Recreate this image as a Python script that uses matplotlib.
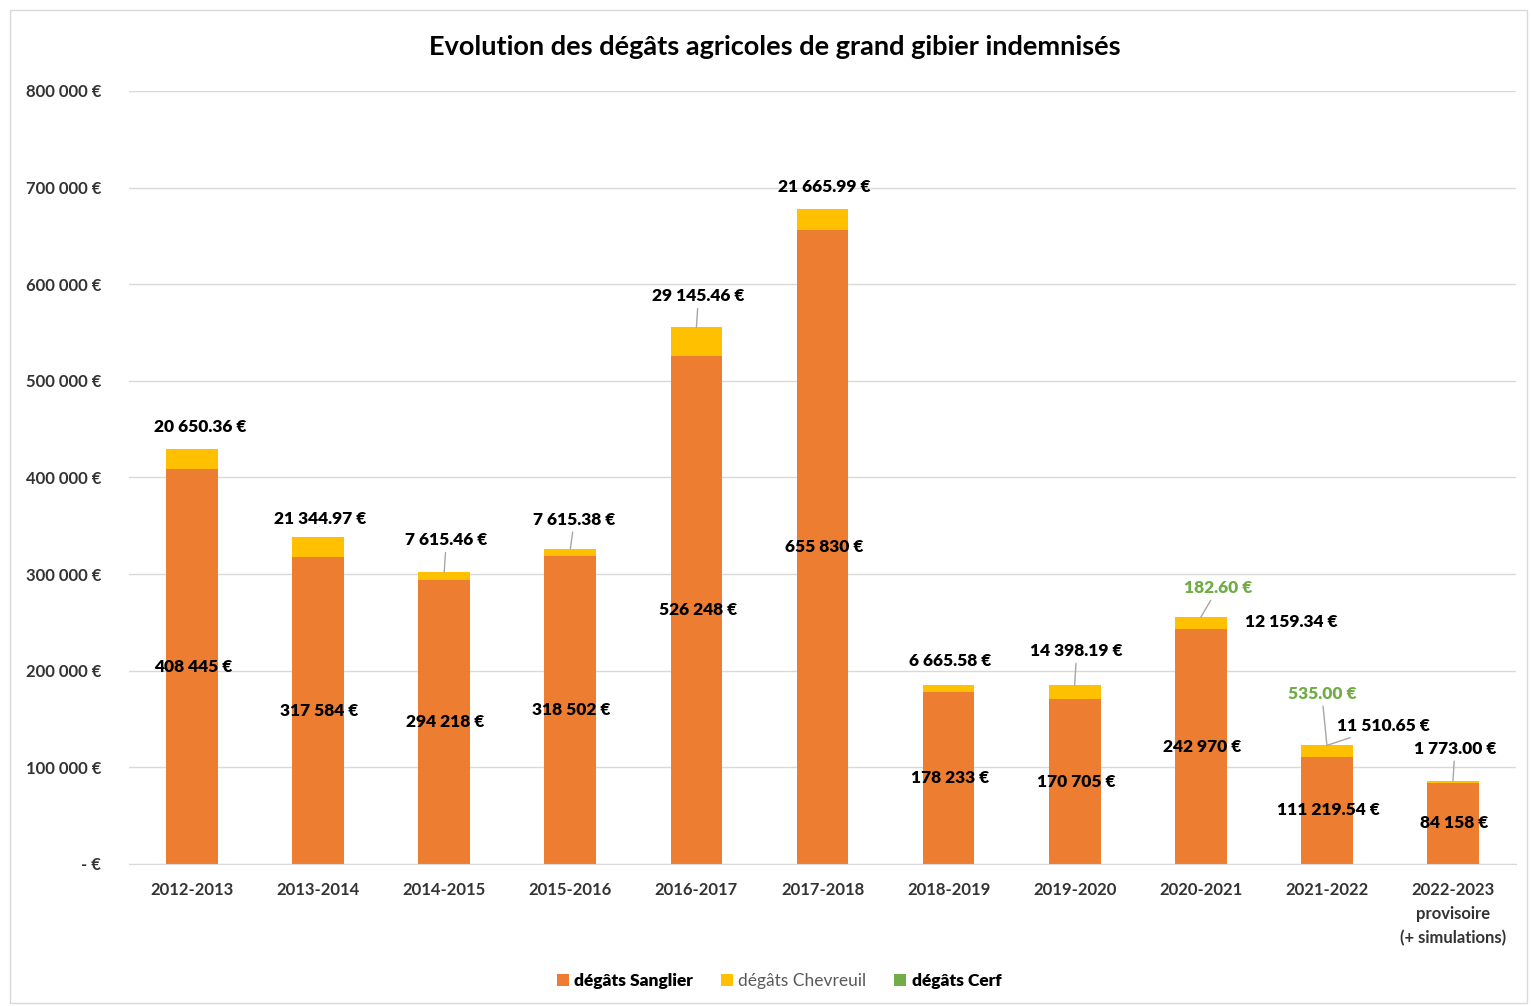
import matplotlib
matplotlib.use("Agg")
import matplotlib.pyplot as plt
from matplotlib.patches import Rectangle

plt.rcParams['font.family'] = ['Lato', 'DejaVu Sans']

categories = ["2012-2013", "2013-2014", "2014-2015", "2015-2016", "2016-2017",
              "2017-2018", "2018-2019", "2019-2020", "2020-2021", "2021-2022",
              "2022-2023\nprovisoire\n(+ simulations)"]
sanglier = [408445, 317584, 294218, 318502, 526248, 655830, 178233, 170705,
            242970, 111219.54, 84158]
chevreuil = [20650.36, 21344.97, 7615.46, 7615.38, 29145.46, 21665.99, 6665.58,
             14398.19, 12159.34, 11510.65, 1773.00]
cerf = [0, 0, 0, 0, 0, 0, 0, 0, 182.60, 535.00, 0]
series_names = ["dégâts Sanglier", "dégâts Chevreuil", "dégâts Cerf"]
yticks = [0, 100000, 200000, 300000, 400000, 500000, 600000, 700000, 800000]

C_SANG = "#ED7D31"
C_CHEV = "#FFC000"
C_CERF = "#70AD47"
GRID = "#D9D9D9"

# label offsets (pixels) from bar top: (dx, dy, leader)
chev_off = [(8, 22, False), (2, 18, False), (2, 32, True), (4, 29, True),
            (2, 31, True), (2, 22, False), (2, 24, False), (2, 34, True),
            (91, -5, False), (57, 19, True), (2, 32, True)]
cerf_off = {8: (17, 29), 9: (-5, 51)}


def fmt(v, dec):
    s = f"{v:,.{dec}f}".replace(",", " ")
    return s + " €"


fig = plt.figure(figsize=(15.31, 10.06), dpi=100)
fig.patches.append(Rectangle((10 / 1531, 3 / 1006), 1517 / 1531, 993 / 1006,
                             transform=fig.transFigure, fill=False,
                             edgecolor=GRID, lw=1))
ax = fig.add_axes([129 / 1531, 1 - 864 / 1006, (1516 - 129) / 1531, (864 - 91) / 1006])

x = list(range(len(categories)))
w = 0.41
b1 = ax.bar(x, sanglier, w, color=C_SANG, label=series_names[0], zorder=2)
bottom2 = sanglier
b2 = ax.bar(x, chevreuil, w, bottom=bottom2, color=C_CHEV, label=series_names[1], zorder=2)
bottom3 = [a + b for a, b in zip(sanglier, chevreuil)]
b3 = ax.bar(x, cerf, w, bottom=bottom3, color=C_CERF, label=series_names[2], zorder=2)

ax.set_xlim(-0.5, len(categories) - 0.5)
ax.set_ylim(0, 800000)
ax.set_yticks(yticks)
ax.set_yticklabels(["- €" if t == 0 else fmt(t, 0) for t in yticks])
ax.set_xticks(x)
ax.set_xticklabels(categories, linespacing=1.6)
ax.tick_params(axis='y', length=0, pad=20, labelsize=12, labelcolor="#333333")
ax.tick_params(axis='x', length=0, pad=13, labelsize=12, labelcolor="#333333")
for lab in ax.get_yticklabels() + ax.get_xticklabels():
    lab.set_fontweight('bold')
ax.grid(axis='y', color=GRID, lw=1, zorder=0)
ax.set_axisbelow(True)
for s in ["top", "right", "left"]:
    ax.spines[s].set_visible(False)
ax.spines["bottom"].set_color(GRID)
ax.spines["bottom"].set_zorder(3)

lab_kw = dict(fontsize=12.5, fontweight='heavy', ha='center', va='center', zorder=5)

for i in x:
    # Sanglier label centred in its segment
    ax.text(i + 0.01, sanglier[i] / 2, fmt(sanglier[i], 0 if float(sanglier[i]).is_integer() else 2),
            color='black', **lab_kw)
    top = sanglier[i] + chevreuil[i]
    dx, dy, leader = chev_off[i]
    ax.annotate(fmt(chevreuil[i], 2), xy=(i, top), xytext=(dx, dy),
                textcoords='offset pixels', color='black',
                arrowprops=dict(arrowstyle='-', color='#A6A6A6', lw=1,
                                shrinkA=1, shrinkB=0) if leader else None,
                **lab_kw)
    if cerf[i] > 0:
        cdx, cdy = cerf_off[i]
        ax.annotate(fmt(cerf[i], 2), xy=(i, top + cerf[i]), xytext=(cdx, cdy),
                    textcoords='offset pixels', color=C_CERF,
                    arrowprops=dict(arrowstyle='-', color='#A6A6A6', lw=1,
                                    shrinkA=1, shrinkB=0),
                    **lab_kw)

fig.text(775 / 1531, 1 - 47 / 1006, "Evolution des dégâts agricoles de grand gibier indemnisés",
         ha='center', va='center', fontsize=19.5, fontweight='bold', color='black')

leg = fig.legend(handles=[b1, b2, b3], labels=series_names, loc='center',
                 bbox_to_anchor=(779 / 1531, 1 - 981 / 1006), ncol=3, frameon=False,
                 handlelength=0.7, handleheight=0.7, handletextpad=0.3,
                 columnspacing=1.6, fontsize=12.5)
texts = leg.get_texts()
texts[0].set_fontweight('heavy')
texts[1].set_color('#595959')
texts[2].set_fontweight('heavy')

fig.savefig("out.png", dpi=100)
